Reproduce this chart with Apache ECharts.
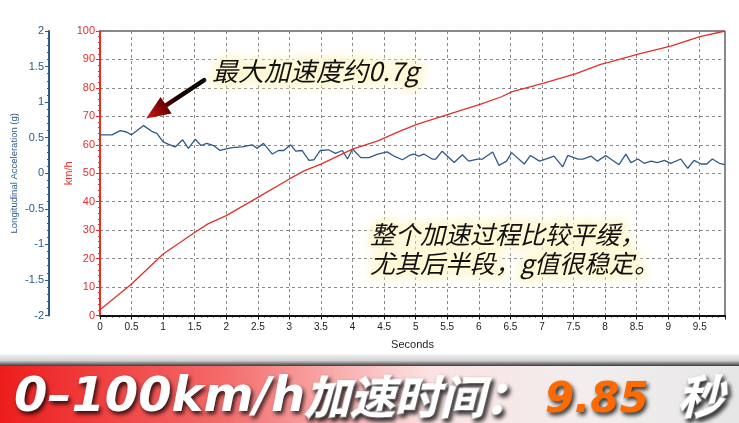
<!DOCTYPE html>
<html>
<head>
<meta charset="utf-8">
<script src="https://cdn.jsdelivr.net/npm/echarts@6/dist/echarts.min.js"></script>
<style>
html,body{margin:0;padding:0;background:#fff;}
#c{width:739px;height:423px;}
</style>
</head>
<body>
<div id="c"></div>
<script>
// ---- data ----
const timeSpeed = [0, 0.5, 1.0, 1.5, 1.71, 2.0, 2.5, 3.0, 3.24, 3.5, 4.0, 4.4, 4.76, 5.03, 5.53, 6.03, 6.35, 6.53, 7.03, 7.54, 7.93, 8.04, 8.54, 9.04, 9.49, 9.9];
const speedKmh  = [2, 11.1, 21.6, 29.2, 32.2, 35.1, 41.5, 48.0, 50.9, 53.2, 58.5, 61.4, 64.9, 67.3, 70.8, 74.3, 76.8, 78.7, 81.7, 85.0, 88.3, 88.9, 92.0, 94.7, 97.9, 100];

const timeAccel = [0, 0.19, 0.32, 0.42, 0.5, 0.69, 0.82, 0.9, 1.0, 1.08, 1.19, 1.31, 1.4, 1.51, 1.6, 1.69, 1.8, 1.9, 2.09, 2.25, 2.41, 2.49, 2.59, 2.73, 2.83, 2.91, 3.02, 3.1, 3.2, 3.31, 3.39, 3.49, 3.62, 3.73, 3.84, 3.92, 4.0, 4.13, 4.26, 4.4, 4.55, 4.66, 4.79, 4.9, 4.97, 5.05, 5.13, 5.26, 5.32, 5.42, 5.61, 5.74, 5.84, 5.98, 6.06, 6.22, 6.32, 6.44, 6.52, 6.72, 6.82, 6.96, 7.06, 7.19, 7.33, 7.41, 7.57, 7.65, 7.78, 7.88, 8.01, 8.22, 8.33, 8.41, 8.52, 8.62, 8.73, 8.83, 8.94, 9.04, 9.2, 9.31, 9.41, 9.52, 9.61, 9.7, 9.81, 9.9];
const accelG    = [0.54, 0.54, 0.60, 0.58, 0.54, 0.67, 0.59, 0.56, 0.44, 0.41, 0.37, 0.47, 0.35, 0.48, 0.39, 0.42, 0.39, 0.32, 0.36, 0.37, 0.40, 0.35, 0.42, 0.27, 0.32, 0.32, 0.40, 0.31, 0.32, 0.18, 0.19, 0.32, 0.33, 0.28, 0.32, 0.20, 0.34, 0.22, 0.22, 0.27, 0.30, 0.24, 0.19, 0.25, 0.27, 0.24, 0.27, 0.20, 0.20, 0.31, 0.15, 0.26, 0.17, 0.20, 0.20, 0.30, 0.11, 0.17, 0.29, 0.13, 0.25, 0.17, 0.20, 0.24, 0.09, 0.25, 0.20, 0.20, 0.24, 0.17, 0.25, 0.12, 0.27, 0.15, 0.20, 0.14, 0.17, 0.15, 0.18, 0.14, 0.20, 0.07, 0.18, 0.13, 0.13, 0.20, 0.14, 0.12];

const xAxisName = 'Seconds';
const speedAxisName = 'km/h';
const accelAxisName = 'Longitudinal Acceleration (g)';
const note1 = '最大加速度约0.7g';
const note2 = '整个加速过程比较平缓，\n尤其后半段，g值很稳定。';
const bannerParts = ['0–100km/h', '加速时间：', '9.85', '秒'];
// annotation arrow anchors in data units (time, g)
const arrowTail = [1.65, 1.31];
const arrowTip = [0.73, 0.77];

const RED = '#e2302a';
const BLUE = '#2d5a88';
const LAT = '"Liberation Sans", Arial, sans-serif';
const CJK = '"Noto Sans CJK SC", "Noto Sans", sans-serif';

const chart = echarts.init(document.getElementById('c'), null, {renderer: 'canvas'});

const option = {
  backgroundColor: '#fff',
  animation: false,
  grid: {left: 100, right: 14, top: 31, bottom: 107.5, containLabel: false, outerBoundsMode: 'none',
         show: true, borderColor: '#111', borderWidth: 1},
  xAxis: {
    type: 'value', min: 0, max: 9.9, interval: 0.5,
    name: xAxisName, nameLocation: 'middle', nameGap: 24, nameMoveOverlap: false,
    nameTextStyle: {color: '#222', fontSize: 11, fontFamily: LAT},
    axisLine: {lineStyle: {color: '#111', width: 2}},
    axisTick: {show: true, length: 4, lineStyle: {color: '#111'}},
    minorTick: {show: true, splitNumber: 5, length: 2, lineStyle: {color: '#111'}},
    axisLabel: {color: '#222', fontSize: 10, fontFamily: LAT, margin: 7, showMaxLabel: false,
      formatter: v => String(v)},
    splitLine: {show: true, lineStyle: {color: '#8a8a8a', type: [3, 3], width: 1}}
  },
  yAxis: [
    {
      type: 'value', min: 0, max: 100, interval: 10, position: 'left',
      name: speedAxisName, nameLocation: 'middle', nameGap: 26, nameRotate: 90, nameMoveOverlap: false,
      nameTextStyle: {color: RED, fontSize: 11, fontFamily: LAT},
      axisLine: {show: true, lineStyle: {color: RED, width: 2}},
      axisTick: {show: true, length: 4, lineStyle: {color: RED}},
      minorTick: {show: true, splitNumber: 5, length: 2, lineStyle: {color: RED}},
      axisLabel: {color: RED, fontSize: 11, fontFamily: LAT, margin: 5},
      splitLine: {show: true, lineStyle: {color: '#8a8a8a', type: [3, 3], width: 1}}
    },
    {
      type: 'value', min: -2, max: 2, interval: 0.5, position: 'left', offset: 51,
      name: accelAxisName, nameLocation: 'middle', nameGap: 30, nameRotate: 90, nameMoveOverlap: false,
      nameTextStyle: {color: BLUE, fontSize: 9.5, fontFamily: LAT},
      axisLine: {show: true, lineStyle: {color: BLUE, width: 2}},
      axisTick: {show: true, length: 4, lineStyle: {color: BLUE}},
      minorTick: {show: true, splitNumber: 5, length: 2, lineStyle: {color: BLUE}},
      axisLabel: {color: BLUE, fontSize: 11, fontFamily: LAT, margin: 5},
      splitLine: {show: false}
    }
  ],
  series: [
    {
      name: 'accel', type: 'line', yAxisIndex: 1, showSymbol: false, silent: true,
      data: timeAccel.map((t, i) => [t, accelG[i]]),
      lineStyle: {color: BLUE, width: 1.3}, z: 3
    },
    {
      name: 'speed', type: 'line', yAxisIndex: 0, showSymbol: false, silent: true,
      data: timeSpeed.map((t, i) => [t, speedKmh[i]]),
      lineStyle: {color: RED, width: 1.3}, z: 4
    }
  ]
};
chart.setOption(option);

// ---- annotations (positions derived from the axes) ----
const tail = chart.convertToPixel({xAxisIndex: 0, yAxisIndex: 1}, arrowTail);
const tip = chart.convertToPixel({xAxisIndex: 0, yAxisIndex: 1}, arrowTip);
const dx = tip[0] - tail[0], dy = tip[1] - tail[1];
const len = Math.sqrt(dx * dx + dy * dy);
const ux = dx / len, uy = dy / len, nx = -uy, ny = ux;
const headLen = 24, headHalf = 10;
const base = [tip[0] - ux * headLen, tip[1] - uy * headLen];

const glow = 'rgba(255,251,222,0.9)';
const shadowDark = 'rgba(0,0,0,0.8)';

function note(text, x, y, size, lh) {
  const common = {text: text, fontSize: size, lineHeight: lh, fontStyle: 'italic', fontFamily: CJK,
    verticalAlign: 'middle', align: 'left'};
  return [
    {type: 'text', z: 52, x: x, y: y,
     style: Object.assign({}, common, {fill: glow, stroke: glow, lineWidth: 5, lineJoin: 'round',
       textShadowColor: 'rgba(255,244,190,1)', textShadowBlur: 12, textShadowOffsetX: 0, textShadowOffsetY: 0})},
    {type: 'text', z: 53, x: x, y: y,
     style: Object.assign({}, common, {fill: '#111'})}
  ];
}

function bannerText(text, x, y, size, color, family, embolden) {
  return {type: 'text', z: 41, x: x, y: y,
    style: {text: text, fill: color, fontSize: size, fontWeight: 'bold', fontStyle: 'italic',
      fontFamily: family, verticalAlign: 'middle',
      stroke: embolden ? color : 'none', lineWidth: embolden ? 2 : 0, lineJoin: 'round',
      textShadowColor: shadowDark, textShadowBlur: 4, textShadowOffsetX: 2, textShadowOffsetY: 3}};
}

chart.setOption({
  graphic: [
    // arrow shaft
    {type: 'line', z: 50, shape: {x1: tail[0], y1: tail[1], x2: base[0] + ux * 2, y2: base[1] + uy * 2},
     style: {lineWidth: 4.5, lineCap: 'round',
       stroke: new echarts.graphic.LinearGradient(tail[0], tail[1], base[0], base[1], [
         {offset: 0, color: '#000'}, {offset: 0.7, color: '#1a0000'}, {offset: 1, color: '#5a0000'}], true)}},
    // arrow head
    {type: 'polygon', z: 51, shape: {points: [
        [tip[0], tip[1]],
        [base[0] + nx * headHalf, base[1] + ny * headHalf],
        [base[0] - nx * headHalf, base[1] - ny * headHalf]]},
     style: {fill: new echarts.graphic.LinearGradient(base[0], base[1], tip[0], tip[1], [
         {offset: 0, color: '#6a0000'}, {offset: 1, color: '#d81818'}], true)}},
    ...note(note1, 212, 71, 26, 30),
    ...note(note2, 370, 249, 25, 29),
    // banner background
    {type: 'rect', z: 40, shape: {x: 0, y: 354, width: 739, height: 12},
     style: {fill: new echarts.graphic.LinearGradient(0, 0, 0, 1, [
       {offset: 0, color: '#f4f4f4'}, {offset: 0.55, color: '#d0d0d0'}, {offset: 1, color: '#3a3a3a'}])}},
    {type: 'rect', z: 40, shape: {x: 0, y: 366, width: 739, height: 57},
     style: {fill: new echarts.graphic.LinearGradient(0, 0, 1, 0, [
       {offset: 0, color: '#ee1d1d'}, {offset: 0.3, color: '#f46a6a'}, {offset: 0.58, color: '#fbe2e2'},
       {offset: 0.8, color: '#f3eeee'}, {offset: 1, color: '#e6e6e6'}])}},
    // banner text
    bannerText(bannerParts[0], 14, 399, 48, '#fff', '"DejaVu Sans", sans-serif', false),
    bannerText(bannerParts[1], 305, 397, 45, '#fff', CJK, true),
    bannerText(bannerParts[2], 545, 401, 42, '#ff6a00', '"DejaVu Sans", sans-serif', false),
    bannerText(bannerParts[3], 678, 397, 46, '#fff', CJK, true)
  ]
});
</script>
</body>
</html>
